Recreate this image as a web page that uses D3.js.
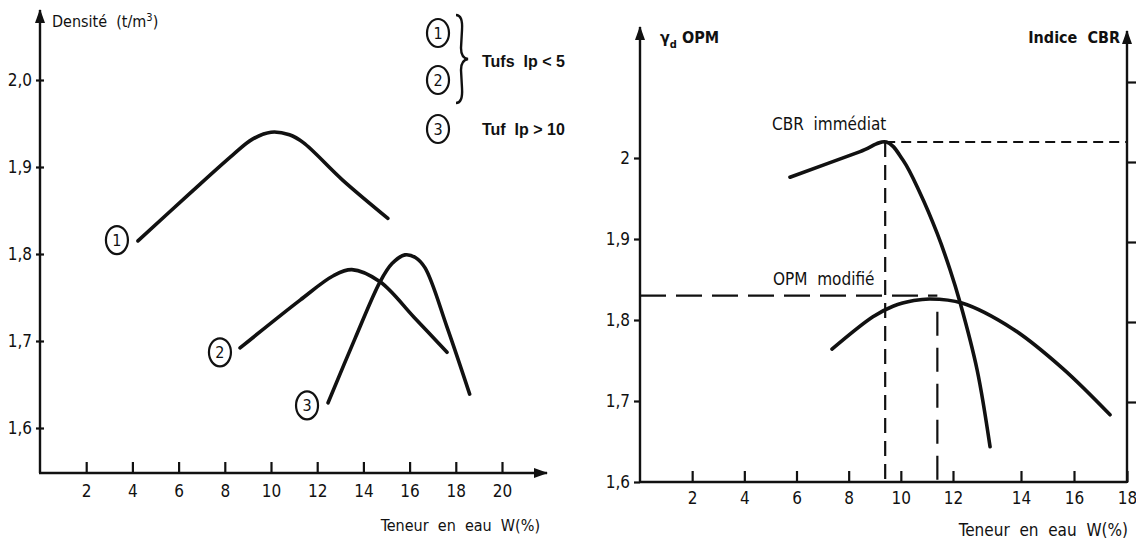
<!DOCTYPE html>
<html lang="fr">
<head>
<meta charset="UTF-8">
<title>Courbes Proctor et CBR des tufs</title>
<script src="https://d3js.org/d3.v7.min.js"></script>
<style>
    body { margin: 0; background: #fff; }
    svg text { font-family: "DejaVu Sans Condensed", "DejaVu Sans", sans-serif; fill: #111; white-space: pre; }
    .tick text { font-family: "Liberation Sans Narrow", "DejaVu Sans Condensed", sans-serif; font-size: 17px; }
    .legend-text { font-family: "Liberation Sans", Arial, sans-serif; font-weight: bold; font-size: 16px; }
</style>
</head>
<body>
<div id="chart"></div>
<script>
// --- left panel: Proctor curves of three tufs ---
const leftXTicks = [2, 4, 6, 8, 10, 12, 14, 16, 18, 20];
const leftYTicks = [1.6, 1.7, 1.8, 1.9, 2.0];

const curve1W = [4.24, 6.5, 8.35, 9.2, 10.0, 10.8, 11.4, 13.1, 15.06];
const curve1D = [1.815, 1.870, 1.914, 1.932, 1.940, 1.937, 1.928, 1.885, 1.841];
const curve2W = [8.66, 11.26, 12.7, 13.5, 14.72, 16.2, 17.62];
const curve2D = [1.692, 1.747, 1.775, 1.782, 1.768, 1.727, 1.687];
const curve3W = [12.47, 13.64, 14.72, 15.24, 15.8, 16.25, 16.67, 17.62, 18.6];
const curve3D = [1.629, 1.703, 1.768, 1.789, 1.799, 1.796, 1.784, 1.716, 1.639];

const curveIds = ["1", "2", "3"];
const curveTagW = [3.33, 7.79, 11.56];
const curveTagD = [1.816, 1.687, 1.626];
const legendRows = ["Tufs  Ip < 5", "Tuf  Ip > 10"];

// --- right panel: modified Proctor and immediate CBR ---
const rightXTicks = [2, 4, 6, 8, 10, 12, 14, 16, 18];
const rightYTicks = [1.6, 1.7, 1.8, 1.9, 2.0];
const cbrTicks = [10, 20, 30, 40, 50];

const opmW = [7.36, 8.93, 9.7, 10.5, 11.12, 12.26, 13.76, 15.58, 17.36];
const opmG = [1.764, 1.804, 1.817, 1.824, 1.826, 1.821, 1.789, 1.740, 1.683];
const cbrW = [5.75, 8.44, 9.45, 10.08, 10.74, 11.39, 11.89, 12.21, 12.71, 13.09];
const cbrV = [38.1, 41.3, 42.5, 40.25, 36.1, 31.1, 26.5, 22.4, 14.0, 4.4];

const opmOptW = 11.4, opmOptG = 1.83;
const cbrOptW = 9.4, cbrOptV = 42.5;

const W = 1136, H = 543;
const svg = d3.select("#chart").append("svg")
    .attr("width", W).attr("height", H);

const defs = svg.append("defs");
defs.append("marker")
    .attr("id", "arrow")
    .attr("viewBox", "0 0 14 10")
    .attr("refX", 13).attr("refY", 5)
    .attr("markerWidth", 14).attr("markerHeight", 10)
    .attr("markerUnits", "userSpaceOnUse")
    .attr("orient", "auto")
    .append("path")
    .attr("d", "M0,0 L14,5 L0,10 Z")
    .attr("fill", "#111");

const comma = d => String(d).replace(".", ",");
const fmt1 = d => d3.format(".1f")(d).replace(".", ",");
const zip = (xs, ys) => xs.map((x, i) => [x, ys[i]]);

function axisLine(g, x1, y1, x2, y2, arrow) {
    g.append("line")
        .attr("x1", x1).attr("y1", y1).attr("x2", x2).attr("y2", y2)
        .attr("stroke", "#111").attr("stroke-width", 2.4)
        .attr("marker-end", arrow ? "url(#arrow)" : null);
}

function styleAxis(g) {
    g.select(".domain").remove();
    g.selectAll(".tick line").attr("stroke", "#111").attr("stroke-width", 2.2);
}

function drawCurve(g, x, y, pts) {
    g.append("path")
        .datum(pts)
        .attr("fill", "none")
        .attr("stroke", "#111")
        .attr("stroke-width", 3.6)
        .attr("stroke-linecap", "round")
        .attr("d", d3.line().x(d => x(d[0])).y(d => y(d[1])).curve(d3.curveCatmullRom.alpha(0.5)));
}

function circledNumber(g, cx, cy, label) {
    g.append("ellipse")
        .attr("cx", cx).attr("cy", cy).attr("rx", 11).attr("ry", 14)
        .attr("fill", "#fff").attr("stroke", "#111").attr("stroke-width", 2.2);
    g.append("text")
        .attr("x", cx).attr("y", cy).attr("dy", "0.36em")
        .attr("text-anchor", "middle")
        .style("font-size", "16px")
        .text(label);
}

// ================= left panel =================
const left = svg.append("g");
const xL = d3.scaleLinear().domain([0, 20]).range([40, 502]);
const yL = d3.scaleLinear().domain([1.6, 2.0]).range([428, 80]);
const baseL = 473;

axisLine(left, xL(0), baseL, xL(0), 10, true);
axisLine(left, xL(0) - 1, baseL, 547, baseL, true);

left.append("g")
    .attr("transform", `translate(0,${baseL})`)
    .call(d3.axisBottom(xL).tickValues(leftXTicks).tickSize(-11).tickPadding(12))
    .call(styleAxis);

left.append("g")
    .attr("transform", `translate(${xL(0)},0)`)
    .call(d3.axisLeft(yL).tickValues(leftYTicks).tickSize(4).tickPadding(4).tickFormat(fmt1))
    .call(styleAxis)
    .call(g => g.selectAll(".tick line").attr("x2", 4).attr("x1", -4));

left.append("text")
    .attr("x", 52).attr("y", 27)
    .style("font-size", "16px")
    .text("Densité  (t/m")
    .append("tspan").attr("dy", -6).style("font-size", "11px").text("3")
    .select(function () { return this.parentNode; })
    .append("tspan").attr("dy", 6).text(")");

left.append("text")
    .attr("x", 540).attr("y", 531)
    .attr("text-anchor", "end")
    .style("font-size", "16px")
    .text("Teneur  en  eau  W(%)");

[zip(curve1W, curve1D), zip(curve2W, curve2D), zip(curve3W, curve3D)]
    .forEach(pts => drawCurve(left, xL, yL, pts));

curveIds.forEach((id, i) => circledNumber(left, xL(curveTagW[i]), yL(curveTagD[i]), id));

// legend
const legend = left.append("g");
circledNumber(legend, 438, 33, curveIds[0]);
circledNumber(legend, 438, 80, curveIds[1]);
circledNumber(legend, 438, 129, curveIds[2]);
legend.append("path")
    .attr("d", "M456,15 Q463,15 462,30 L461,48 Q461,58 468,59 Q461,60 461,70 L462,88 Q463,103 456,103")
    .attr("fill", "none").attr("stroke", "#111").attr("stroke-width", 2.4);
legend.append("text").attr("class", "legend-text")
    .attr("x", 482).attr("y", 67).text(legendRows[0]);
legend.append("text").attr("class", "legend-text")
    .attr("x", 482).attr("y", 135).text(legendRows[1]);

// ================= right panel =================
const right = svg.append("g");
// hand-drawn abscissa: the 12–14 interval is drawn wider than the others
const xR = d3.scaleLinear().domain([0, 12, 14, 18]).range([640, 953, 1021, 1127]);
const yR = d3.scaleLinear().domain([1.6, 2.0]).range([482, 158]);
const yCbr = d3.scaleLinear().domain([0, 50]).range([482, 82]);

axisLine(right, xR(0), yR(1.6) + 1, xR(0), 27, true);
axisLine(right, xR(0), yR(1.6), xR(18), yR(1.6), false);
axisLine(right, xR(18), yR(1.6) + 1, xR(18), 31, true);

right.append("g")
    .attr("transform", `translate(0,${yR(1.6)})`)
    .call(d3.axisBottom(xR).tickValues(rightXTicks).tickSize(-11).tickPadding(10))
    .call(styleAxis);

right.append("g")
    .attr("transform", `translate(${xR(0)},0)`)
    .call(d3.axisLeft(yR).tickValues(rightYTicks).tickSize(6).tickPadding(4).tickFormat(comma))
    .call(styleAxis);

right.append("g")
    .attr("transform", `translate(${xR(18)},0)`)
    .call(d3.axisRight(yCbr).tickValues(cbrTicks).tickSize(9).tickFormat(""))
    .call(styleAxis);

right.append("text")
    .attr("x", 660).attr("y", 43)
    .style("font-size", "16px").style("font-weight", "bold")
    .text("γ")
    .append("tspan").attr("dy", 5).style("font-size", "11px").text("d")
    .select(function () { return this.parentNode; })
    .append("tspan").attr("dy", -5).text(" OPM");

right.append("text")
    .attr("x", 1120).attr("y", 43)
    .attr("text-anchor", "end")
    .style("font-size", "16px")
    .style("font-weight", "600")
    .text("Indice  CBR");

right.append("text")
    .attr("x", 1128).attr("y", 536)
    .attr("text-anchor", "end")
    .style("font-size", "17px")
    .text("Teneur  en  eau  W(%)");

// optimum reference lines
right.append("line")
    .attr("x1", xR(0)).attr("x2", xR(opmOptW))
    .attr("y1", yR(opmOptG)).attr("y2", yR(opmOptG))
    .attr("stroke", "#111").attr("stroke-width", 2.2).attr("stroke-dasharray", "26 10");
right.append("line")
    .attr("x1", xR(opmOptW)).attr("x2", xR(opmOptW))
    .attr("y1", yR(opmOptG) + 16).attr("y2", yR(1.6))
    .attr("stroke", "#111").attr("stroke-width", 2.2).attr("stroke-dasharray", "24 12");
right.append("line")
    .attr("x1", xR(cbrOptW)).attr("x2", xR(18))
    .attr("y1", yCbr(cbrOptV)).attr("y2", yCbr(cbrOptV))
    .attr("stroke", "#111").attr("stroke-width", 2.2).attr("stroke-dasharray", "10 6");
right.append("line")
    .attr("x1", xR(cbrOptW)).attr("x2", xR(cbrOptW))
    .attr("y1", yCbr(cbrOptV)).attr("y2", yR(1.6))
    .attr("stroke", "#111").attr("stroke-width", 2.2).attr("stroke-dasharray", "15 8");

drawCurve(right, xR, yR, zip(opmW, opmG));
drawCurve(right, xR, yCbr, zip(cbrW, cbrV));

right.append("text")
    .attr("x", 772).attr("y", 130)
    .style("font-size", "17px")
    .text("CBR  immédiat");
right.append("text")
    .attr("x", 773).attr("y", 285)
    .style("font-size", "17px")
    .text("OPM  modifié");
</script>
</body>
</html>
